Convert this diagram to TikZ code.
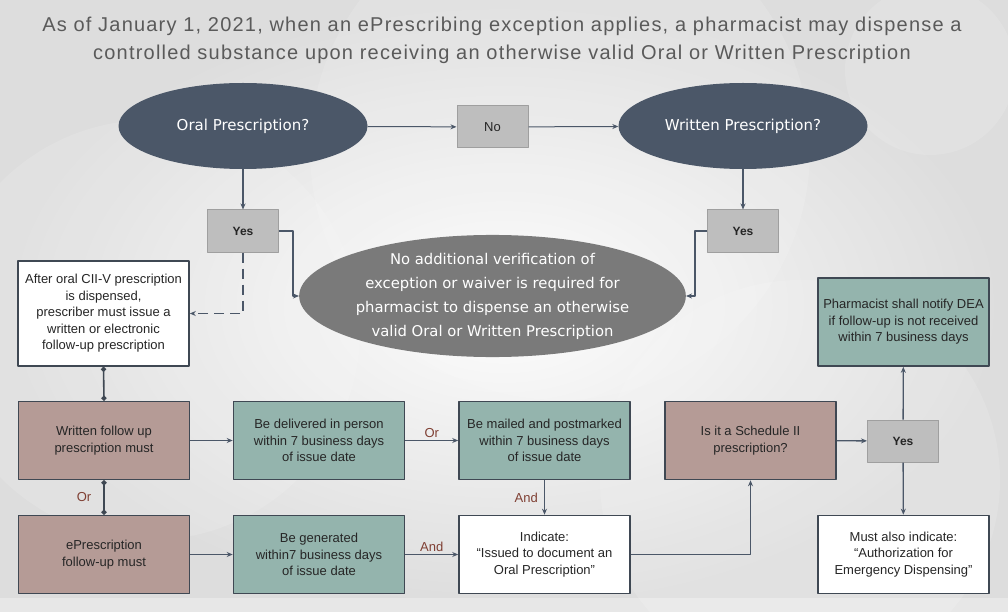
\documentclass[tikz,border=0pt]{standalone}
\usepackage{fontspec}
\setmainfont{Liberation Sans}
\newfontfamily\ovalfont{DejaVu Sans}
\newfontfamily\titlefont[LetterSpace=6]{Liberation Sans}
\usetikzlibrary{shapes.geometric,arrows.meta}
\definecolor{slate}{HTML}{4B5768}
\definecolor{edge}{HTML}{3F4853}
\definecolor{tealbg}{HTML}{94B4AD}
\definecolor{rosebg}{HTML}{B59B96}
\definecolor{yesbg}{HTML}{BEBEBE}
\definecolor{ovalbg}{HTML}{7A7A7A}
\definecolor{wordred}{HTML}{7F3F33}
\definecolor{titlegrey}{HTML}{5A5A5A}
\begin{document}
\begin{tikzpicture}[x=1pt,y=-1pt,line join=round,>={Stealth[length=6pt,width=5pt]}]
\tikzset{
  box/.style={draw=edge,line width=1.6pt,minimum width=171pt,minimum height=78pt,inner sep=1pt,align=center,text=black!85,font=\fontsize{13}{16.5}\selectfont},
  tealbox/.style={box,fill=tealbg},
  rosebox/.style={box,fill=rosebg},
  whitebox/.style={box,fill=white},
  yesbox/.style={draw=gray!75,line width=1pt,fill=yesbg,minimum width=71pt,minimum height=42pt,text=black!85,font=\bfseries\fontsize{12}{14}\selectfont},
  darkoval/.style={ellipse,fill=slate,text=white,minimum width=249pt,minimum height=86pt,font=\ovalfont\fontsize{15}{18}\selectfont},
  link/.style={draw=slate,line width=1.3pt,->},
  word/.style={text=wordred,inner sep=2pt,font=\fontsize{13}{15}\selectfont}
}
\useasboundingbox (0,0) rectangle (1008,612);
\begin{scope}
  \clip (0,0) rectangle (1008,612);
  \shade[inner color=gray!2,outer color=gray!27] (0,0) rectangle (1008,612);
  \foreach \cx/\cy/\r in {150/330/210,930/70/85,560/150/250,800/480/200}
    \fill[white,opacity=0.13] (\cx,\cy) circle (\r pt);
  \fill[white,opacity=0.3] (0,598) rectangle (1008,612);
\end{scope}

\node[text=titlegrey,align=center,font=\titlefont\fontsize{20}{28}\selectfont] (title) at (502,40) {As of January 1, 2021, when an ePrescribing exception applies, a pharmacist may dispense a\\controlled substance upon receiving an otherwise valid Oral or Written Prescription};

\node[darkoval] (oral) at (243,126) {Oral Prescription?};
\node[yesbox,font=\fontsize{13}{15}\selectfont] (no) at (492.5,127) {No};
\node[darkoval] (written) at (743,126) {Written Prescription?};
\node[yesbox] (yesL) at (243,231) {Yes};
\node[yesbox] (yesR) at (743,231) {Yes};
\node[ellipse,fill=ovalbg,text=white,minimum width=355pt,minimum height=120pt,inner sep=0pt,align=center,font=\ovalfont\fontsize{14.8}{24}\selectfont] (noverify) at (492.5,296) {No additional verification of\\exception or waiver is required for\\pharmacist to dispense an otherwise\\valid Oral or Written Prescription};

\node[whitebox,minimum height=105pt] (after) at (103.5,313.5) {After oral CII-V prescription\\is dispensed,\\prescriber must issue a\\written or electronic\\follow-up prescription};
\node[tealbox,minimum height=88pt] (notify) at (903.5,322) {Pharmacist shall notify DEA\\if follow-up is not received\\within 7 business days};

\node[rosebox] (wfollow) at (104,440.5) {Written follow up\\prescription must};
\node[tealbox] (deliver) at (319,440.5) {Be delivered in person\\within 7 business days\\of issue date};
\node[tealbox] (mail) at (544.5,440.5) {Be mailed and postmarked\\within 7 business days\\of issue date};
\node[rosebox] (sched) at (750.5,440.5) {Is it a Schedule II\\prescription?};
\node[yesbox] (yesS) at (903,441) {Yes};

\node[rosebox] (efollow) at (104,554.5) {ePrescription\\follow-up must};
\node[tealbox] (generate) at (319,554.5) {Be generated\\within7 business days\\of issue date};
\node[whitebox] (indicate) at (544.5,554.5) {Indicate:\\``Issued to document an\\Oral Prescription''};
\node[whitebox] (mustalso) at (903.5,554.5) {Must also indicate:\\``Authorization for\\Emergency Dispensing''};

\draw[link,line width=1pt] (oral) -- (no);
\draw[link,line width=1pt] (no) -- (written);
\draw[link] (oral) -- (yesL);
\draw[link] (written) -- (yesR);
\draw[link] (yesL.east) -- ++(14,0) |- (noverify.west);
\draw[link] (yesR.west) -- ++(-12,0) |- (noverify.east);
\draw[link,dash pattern=on 10pt off 6pt] (yesL.south) |- (after.east);
\draw[draw=edge,line width=1.6pt,{Circle[length=5pt]}-{Circle[length=5pt]}] (after.south) -- (wfollow.north);
\draw[draw=edge,line width=1.6pt,{Circle[length=5pt]}-{Circle[length=5pt]}] (wfollow.south) -- node[word,left=10pt] {Or} (efollow.north);
\draw[link] (wfollow) -- (deliver);
\draw[link] (deliver) -- node[word,above] {Or} (mail);
\draw[link] (mail) -- node[word,left=4pt] {And} (indicate);
\draw[link] (efollow) -- (generate);
\draw[link] (generate) -- node[word,above] {And} (indicate);
\draw[link] (indicate.east) -| (sched.south);
\draw[link] (sched) -- (yesS);
\draw[link] (yesS) -- (notify);
\draw[link] (yesS) -- (mustalso);
\end{tikzpicture}
\end{document}
